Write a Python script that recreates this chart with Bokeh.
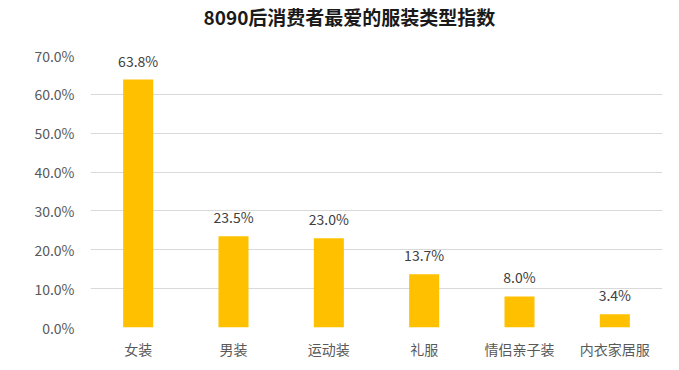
from bokeh.plotting import figure
from bokeh.models import ColumnDataSource, FixedTicker, NumeralTickFormatter, Title
from bokeh.core.properties import value
from bokeh.embed import file_html
from bokeh.resources import INLINE

categories = ["女装", "男装", "运动装", "礼服", "情侣亲子装", "内衣家居服"]
values = [0.638, 0.235, 0.230, 0.137, 0.080, 0.034]
labels = ["63.8%", "23.5%", "23.0%", "13.7%", "8.0%", "3.4%"]
y_ticks = [0.0, 0.1, 0.2, 0.3, 0.4, 0.5, 0.6, 0.7]

FONT = "Noto Sans CJK SC"

src = ColumnDataSource(dict(cat=categories, val=values, lab=labels))

p = figure(x_range=categories, y_range=(0, 0.7), width=670, height=365,
           output_backend="svg", toolbar_location=None,
           min_border_left=90, min_border_right=8, min_border_top=55,
           min_border_bottom=38)
p.title = None
spacer = Title(text=" ", text_font=FONT, text_font_size="16px", standoff=0)
p.add_layout(spacer, "above")
t = Title(text="8090后消费者最爱的服装类型指数", align="left", offset=113,
          text_font=FONT, text_font_size="19px", text_font_style="bold",
          text_color="#1a1a1a", standoff=0)
p.add_layout(t, "above")

p.vbar(x="cat", top="val", width=0.315, source=src, color="#FFC000", line_color=None)
p.text(x="cat", y="val", text="lab", source=src, text_align="center",
       text_baseline="bottom", y_offset=-9, text_font=value(FONT),
       text_font_size="14px", text_color="#404040")

p.outline_line_color = None
p.xgrid.grid_line_color = None
p.ygrid.grid_line_color = "#d9d9d9"
p.ygrid.ticker = FixedTicker(ticks=y_ticks)

p.yaxis.ticker = FixedTicker(ticks=y_ticks)
p.yaxis.formatter = NumeralTickFormatter(format="0.0%")
for ax in (p.xaxis, p.yaxis):
    ax.axis_line_color = None
    ax.major_tick_line_color = None
    ax.minor_tick_line_color = None
    ax.major_label_text_font = FONT
    ax.major_label_text_font_size = "14px"
    ax.major_label_text_color = "#595959"
p.yaxis.major_label_standoff = 10
p.xaxis.major_label_standoff = 5

open("out.html", "w").write(file_html(p, INLINE))
